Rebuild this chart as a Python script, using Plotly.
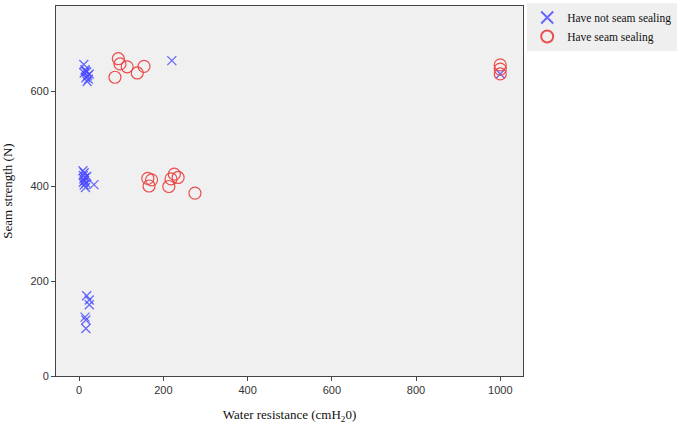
import plotly.graph_objects as go

# Have not seam sealing (blue crosses)
no_seal_x = [11, 14, 12, 18, 20, 16, 22, 19, 24, 15, 220,
             9, 12, 10, 14, 11, 13, 16, 12, 15, 18, 10, 35,
             18, 24, 24, 14, 16, 16, 1000]
no_seal_y = [656, 645, 638, 640, 632, 628, 625, 620, 636, 642, 664,
             432, 428, 422, 418, 415, 411, 406, 402, 397, 420, 408, 403,
             169, 160, 150, 124, 118, 100, 636]

# Have seam sealing (red circles)
seal_x = [93, 97, 114, 154, 138, 85,
          163, 172, 166, 213, 218, 226, 235, 275,
          1000, 1000, 1000]
seal_y = [668, 657, 651, 652, 638, 629,
          416, 413, 400, 399, 415, 425, 418, 385,
          655, 646, 636]

fig = go.Figure()
fig.add_trace(go.Scatter(
    x=no_seal_x, y=no_seal_y, mode="markers", name="Have not seam sealing",
    marker=dict(symbol="x-thin-open", size=9, color="rgba(70,70,255,0.8)",
                line=dict(width=1.3, color="rgba(70,70,255,0.8)"))))
fig.add_trace(go.Scatter(
    x=seal_x, y=seal_y, mode="markers", name="Have seam sealing",
    marker=dict(symbol="circle-open", size=12, color="rgba(235,60,60,0.9)",
                line=dict(width=1.2, color="rgba(235,60,60,0.9)"))))

axis_common = dict(showgrid=False, zeroline=False, showline=True, mirror=True,
                   linecolor="#444", linewidth=1, ticks="outside", ticklen=4,
                   tickcolor="#444",
                   tickfont=dict(family="Liberation Sans, Arial", size=11, color="#333"))

fig.update_layout(
    width=685, height=429,
    margin=dict(l=56, r=162, t=3, b=53),
    paper_bgcolor="white", plot_bgcolor="#f0f0f0",
    xaxis=dict(range=[-55, 1054], tickvals=[0, 200, 400, 600, 800, 1000],
               title=dict(text="Water resistance (cmH<sub>2</sub>0)",
                          font=dict(family="Liberation Serif, Times New Roman", size=13, color="#111"),
                          standoff=14),
               **axis_common),
    yaxis=dict(range=[0, 779], tickvals=[0, 200, 400, 600],
               title=dict(text="Seam strength (N)",
                          font=dict(family="Liberation Serif, Times New Roman", size=13, color="#111"),
                          standoff=15),
               **axis_common),
    legend=dict(x=1.009, y=1.008, xanchor="left", yanchor="top",
                bgcolor="#efefef", borderwidth=0,
                font=dict(family="Liberation Serif, Times New Roman", size=11.5, color="#111"),
                tracegroupgap=0, itemsizing="constant", itemwidth=30),
)

fig.write_html("out.html", config={"displayModeBar": False},
               post_script="document.body.style.margin='0';document.body.style.overflow='hidden';")
